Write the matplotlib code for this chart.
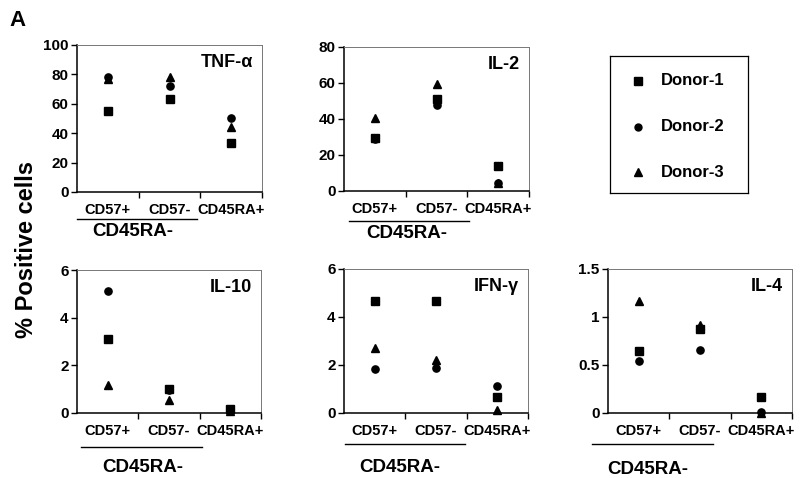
import matplotlib
matplotlib.use("Agg")
import matplotlib.pyplot as plt
from matplotlib.lines import Line2D

plt.rcParams['font.family'] = ['Liberation Sans', 'DejaVu Sans']
plt.rcParams['font.weight'] = 'bold'

# categories on the x axis
categories = ['CD57+', 'CD57-', 'CD45RA+']
donors = ['Donor-1', 'Donor-2', 'Donor-3']
markers = ['s', 'o', '^']

# values per cytokine: [donor-1, donor-2, donor-3], each over the 3 categories
tnf_d1 = [55, 63, 33]
tnf_d2 = [78.5, 72, 50]
tnf_d3 = [77, 78, 44]

il2_d1 = [29.5, 51, 14]
il2_d2 = [29, 48, 4.6]
il2_d3 = [40.7, 59.3, 4.5]

il10_d1 = [3.1, 1.02, 0.17]
il10_d2 = [5.13, 0.95, 0.14]
il10_d3 = [1.16, 0.56, 0.1]

ifn_d1 = [4.65, 4.65, 0.67]
ifn_d2 = [1.85, 1.87, 1.11]
ifn_d3 = [2.71, 2.22, 0.11]

il4_d1 = [0.645, 0.88, 0.17]
il4_d2 = [0.54, 0.66, 0.01]
il4_d3 = [1.17, 0.92, 0.0]

W, H = 802, 478
fig = plt.figure(figsize=(W / 100, H / 100), dpi=100)


def px_axes(x0, y0, x1, y1):
    return fig.add_axes([x0 / W, 1 - y1 / H, (x1 - x0) / W, (y1 - y0) / H])


def fig_xy(x, y):
    return x / W, 1 - y / H


def panel(box, title, series, ymax, step, ticklabels, uline, sub):
    ax = px_axes(*box)
    xs = [0.5, 1.5, 2.5]
    for vals, m in zip(series, markers):
        ax.plot(xs, vals, ls='none', marker=m, color='black', ms=5.8 if m != 'o' else 5.2,
                clip_on=False, zorder=5)
    ax.set_xlim(0, 3)
    ax.set_ylim(0, ymax)
    yt = [i * step for i in range(len(ticklabels))]
    ax.set_yticks(yt)
    ax.set_yticklabels(ticklabels, fontsize=11, fontweight='bold')
    ax.set_xticks([1, 2, 3])
    ax.set_xticklabels([])
    ax.set_xticks(xs, minor=True)
    ax.set_xticklabels(categories, minor=True, fontsize=10.5, fontweight='bold')
    ax.tick_params(axis='x', which='minor', length=0, pad=8)
    ax.tick_params(axis='x', which='major', direction='out', length=4, width=1)
    ax.tick_params(axis='y', direction='out', length=4, width=1, pad=2)
    ax.spines['left'].set_linewidth(1.1)
    ax.spines['bottom'].set_linewidth(1.1)
    for s in ('top', 'right'):
        ax.spines[s].set_color('#777777')
        ax.spines[s].set_linewidth(0.7)
    ax.text(0.95, 0.88, title, transform=ax.transAxes, ha='right', va='center',
            fontsize=13, fontweight='bold')
    x0, x1, yl = uline
    p0 = fig_xy(x0, yl)
    p1 = fig_xy(x1, yl)
    fig.add_artist(Line2D([p0[0], p1[0]], [p0[1], p1[1]], color='black', lw=1))
    tx, ty = fig_xy(*sub)
    fig.text(tx, ty, 'CD45RA-', ha='center', va='center', fontsize=13.5, fontweight='bold')
    return ax


panel((77, 45, 262, 192), 'TNF-\u03b1', [tnf_d1, tnf_d2, tnf_d3], 100, 20,
      ['0', '20', '40', '60', '80', '100'], (77, 197, 219), (133, 232))
panel((344, 47, 529, 191), 'IL-2', [il2_d1, il2_d2, il2_d3], 80, 20,
      ['0', '20', '40', '60', '80'], (349, 469, 221), (407, 234))
panel((77, 270, 261, 413), 'IL-10', [il10_d1, il10_d2, il10_d3], 6, 2,
      ['0', '2', '4', '6'], (81, 202, 447), (143, 468))
panel((344, 269, 528, 413), 'IFN-\u03b3', [ifn_d1, ifn_d2, ifn_d3], 6, 2,
      ['0', '2', '4', '6'], (345, 465, 444), (400, 467))
panel((608, 269, 792, 413), 'IL-4', [il4_d1, il4_d2, il4_d3], 1.5, 0.5,
      ['0', '0.5', '1', '1.5'], (592, 713, 444), (648, 470))

# legend box
lax = px_axes(610, 56, 748, 193)
lax.set_xlim(0, 1)
lax.set_ylim(0, 1)
lax.set_xticks([])
lax.set_yticks([])
for s in lax.spines.values():
    s.set_linewidth(0.9)
for i, (d, m) in enumerate(zip(donors, markers)):
    yy = 0.82 - i * 0.335
    lax.plot([0.2], [yy], ls='none', marker=m, color='black', ms=5.5 if m != 'o' else 5)
    lax.text(0.37, yy, d, ha='left', va='center', fontsize=12, fontweight='bold')

fig.text(*fig_xy(27, 250), '% Positive cells', rotation=90, ha='center', va='center',
         fontsize=17, fontweight='bold')
fig.text(*fig_xy(18, 20), 'A', ha='center', va='center', fontsize=16, fontweight='bold')

fig.savefig('out.png', dpi=100)
